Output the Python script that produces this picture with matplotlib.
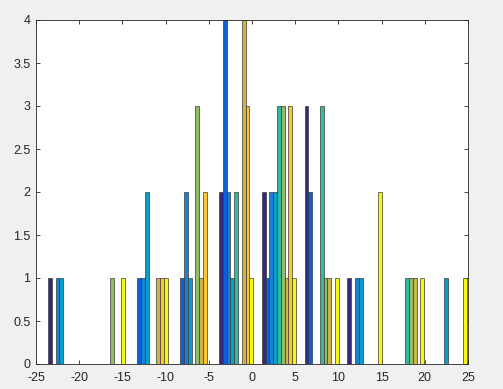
import matplotlib
matplotlib.use("Agg")
import matplotlib.pyplot as plt
import numpy as np

# histogram counts: rows = bins, columns = data columns (9 series)
bin_centers = [-21.63, -16.68, -11.73, -6.78, -1.84, 3.11, 8.06, 13.01, 17.96, 22.91]
counts = [
    [1, 0, 1, 1, 0, 0, 0, 0, 0],
    [0, 0, 0, 0, 0, 1, 0, 0, 1],
    [0, 1, 1, 2, 0, 0, 1, 1, 1],
    [0, 1, 2, 1, 0, 3, 1, 2, 0],
    [2, 4, 2, 1, 2, 0, 4, 3, 1],
    [2, 1, 2, 2, 3, 3, 1, 3, 1],
    [3, 2, 0, 0, 3, 1, 1, 0, 1],
    [1, 0, 1, 1, 0, 0, 0, 0, 2],
    [0, 0, 0, 0, 1, 1, 1, 0, 1],
    [0, 0, 0, 1, 0, 0, 0, 0, 1],
]
colors = ["#35297e", "#0b5fdd", "#1a80d2", "#089fcb", "#35b89f",
          "#8cbf66", "#cfb24a", "#fcc72e", "#f8f80e"]
xticks = np.arange(-25, 26, 5)
yticks = np.arange(0, 4.01, 0.5)

plt.rcParams["font.family"] = ["Liberation Sans", "DejaVu Sans"]
plt.rcParams["axes.unicode_minus"] = False

fig = plt.figure(figsize=(5.03, 3.89), dpi=100, facecolor="#f0f0f0")
ax = fig.add_axes([36 / 503, 1 - 364 / 389, 432 / 503, 344 / 389])

data = np.array(counts)
centers = np.array(bin_centers)
ncol = data.shape[1]
binw = centers[1] - centers[0]
bw = 0.8 * binw / ncol
for j in range(ncol):
    ax.bar(centers + (j - (ncol - 1) / 2) * bw, data[:, j], width=bw,
           color=colors[j], edgecolor="#3a3a3a", linewidth=0.5, zorder=2)

ax.set_xlim(-25, 25)
ax.set_ylim(0, 4)
ax.set_xticks(xticks)
ax.set_yticks(yticks)
ax.set_yticklabels([f"{v:g}" for v in yticks])
ax.tick_params(direction="in", length=3, width=0.6, colors="#262626",
               labelsize=9, top=True, right=True)
ax.tick_params(axis="x", pad=6)
ax.tick_params(axis="y", pad=4)
for s in ax.spines.values():
    s.set_color("#262626")
    s.set_linewidth(0.6)

fig.savefig("out.png", dpi=100, facecolor=fig.get_facecolor())
